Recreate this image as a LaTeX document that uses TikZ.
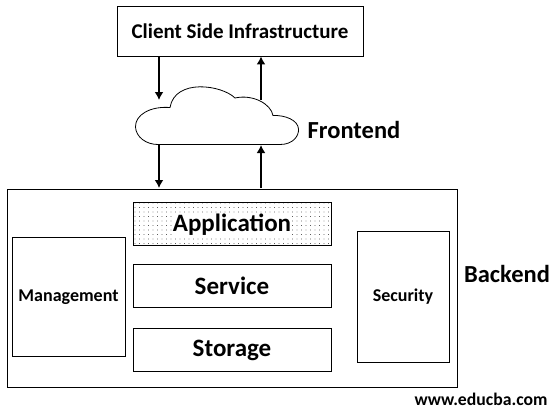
\documentclass[tikz,border=0pt]{standalone}
\usepackage{fontspec}
\setmainfont{Carlito}
\usetikzlibrary{arrows.meta,patterns.meta}
\tikzset{
  layerbox/.style={
    draw=black,
    thick,
    fill=white,
    minimum width=198pt,
    minimum height=43pt,
    inner sep=0pt,
    font=\fontsize{25}{27}\selectfont\bfseries
  },
  sidebox/.style={
    draw=black,
    thick,
    fill=white,
    inner sep=0pt,
    font=\fontsize{18}{20}\selectfont\bfseries
  },
  heading/.style={
    inner sep=0pt,
    font=\fontsize{24.5}{26}\selectfont\bfseries
  },
  arr/.style={-{Latex[length=8pt,width=9pt]},line width=2.5pt,black}
}
\begin{document}
\begin{tikzpicture}[x=1pt,y=-1pt]
  \useasboundingbox (0,0) rectangle (553,410);
  \node[sidebox,minimum width=246pt,minimum height=50pt,font=\fontsize{21}{23}\selectfont\bfseries] (client) at (240,31) {Client Side Infrastructure};
  \node[sidebox,minimum width=450pt,minimum height=198pt] (backend) at (232,288) {};
  \node[layerbox,pattern={Dots[distance=4.5pt,radius=0.4pt]}] (application) at (232,224) {};
  \node[inner sep=1pt,fill=white,font=\fontsize{25}{27}\selectfont\bfseries] (applabel) at (232,225) {Application};
  \node[layerbox] (service) at (232,286) {Service};
  \node[layerbox] (storage) at (232,350) {Storage};
  \node[sidebox,minimum width=113pt,minimum height=119pt] (management) at (68.5,297) {Management};
  \node[sidebox,minimum width=92pt,minimum height=131pt] (security) at (403,297) {Security};
  % cloud outline
  \draw[thick] (158,144.5) -- (280,144.5)
    .. controls (293,144.5) and (299,136) .. (298.5,129)
    .. controls (298,120) and (285,115) .. (273,115.5)
    .. controls (271,104) and (253,94) .. (235,98)
    .. controls (222,85) and (175,78) .. (170,107.5)
    .. controls (150,106) and (135,115) .. (135.5,127)
    .. controls (136,137) and (146,144.5) .. (158,144.5);
  \coordinate (cloudin) at (159,100);
  \coordinate (cloudout) at (261,100);
  \coordinate (cloudbl) at (159,145);
  \coordinate (cloudbr) at (261,145);
  \coordinate (backin) at (159,188);
  \coordinate (backout) at (261,188);
  \draw[arr] (client.south -| cloudin) -- (cloudin);
  \draw[arr] (cloudout) -- (client.south -| cloudout);
  \draw[arr] (cloudbl) -- (backin);
  \draw[arr] (backout) -- (cloudbr);
  \node[heading] (frontend) at (354,130) {Frontend};
  \node[heading] (backendlabel) at (507,274) {Backend};
  \node[inner sep=0pt,font=\fontsize{17.7}{19}\selectfont\bfseries] (site) at (481,399.5) {www.educba.com};
\end{tikzpicture}
\end{document}
